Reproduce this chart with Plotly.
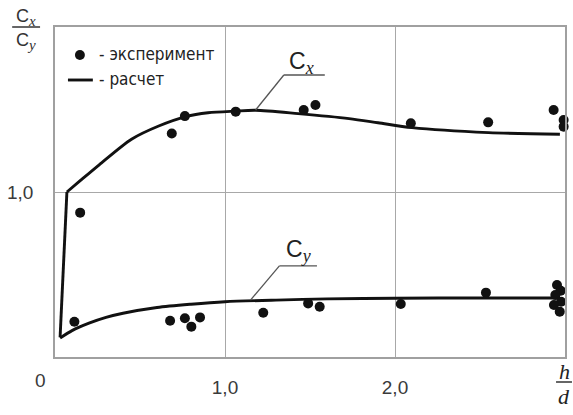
import plotly.graph_objects as go

# ---------------- data ----------------
# calculated curves (h/d, coefficient)
cx_calc_x = [0.03, 0.07, 0.15, 0.26, 0.45, 0.61, 0.77, 0.90, 1.06, 1.18, 1.43, 1.73, 1.90, 2.10, 2.55, 2.97]
cx_calc_y = [0.12, 1.00, 1.07, 1.165, 1.32, 1.40, 1.457, 1.48, 1.49, 1.495, 1.475, 1.445, 1.42, 1.39, 1.36, 1.35]

cy_calc_x = [0.03, 0.10, 0.20, 0.30, 0.40, 0.60, 0.80, 1.00, 1.30, 1.60, 2.00, 2.50, 2.97]
cy_calc_y = [0.115, 0.16, 0.205, 0.24, 0.265, 0.30, 0.32, 0.335, 0.345, 0.352, 0.356, 0.358, 0.358]

# experimental points
cx_exp_x = [0.148, 0.687, 0.764, 1.063, 1.463, 1.532, 2.093, 2.548, 2.933, 2.992, 2.992]
cx_exp_y = [0.875, 1.355, 1.46, 1.487, 1.497, 1.527, 1.416, 1.422, 1.497, 1.436, 1.396]

cy_exp_x = [0.114, 0.677, 0.764, 0.802, 0.853, 1.225, 1.489, 1.557, 2.034, 2.535,
            2.953, 2.975, 2.943, 2.977, 2.935, 2.969, 3.006]
cy_exp_y = [0.214, 0.22, 0.235, 0.184, 0.24, 0.268, 0.325, 0.305, 0.321, 0.39,
            0.436, 0.402, 0.376, 0.335, 0.315, 0.275, 0.285]

x_tickvals = [1, 2]
x_ticktext = ["1,0", "2,0"]
y_tickvals = [1]
y_ticktext = ["1,0"]

legend_labels = ["- эксперимент", "- расчет"]

# ---------------- layout geometry ----------------
W, H = 573, 415
ML, MR, MT, MB = 55, 6, 27, 58
PW, PH = W - ML - MR, H - MT - MB


def px(x):
    return (x - ML) / PW


def py(y):
    return (H - MB - y) / PH


SANS = "Liberation Sans, Arial, sans-serif"
NARROW = "DejaVu Sans Condensed, Liberation Sans Narrow, sans-serif"
SERIF = "Liberation Serif, Times New Roman, serif"


def sub_i(letter, size):
    return (f'<sub><span style="font-family:{SERIF};font-style:italic;'
            f'font-size:{size}px">{letter}</span></sub>')


fig = go.Figure()

LINE = dict(color="#111111", width=2.9)
MARK = dict(color="#111111", size=10)

# Cx calculated: steep straight part then smooth part
fig.add_trace(go.Scatter(x=cx_calc_x[:2], y=cx_calc_y[:2], mode="lines",
                         line=LINE, showlegend=False, hoverinfo="skip"))
fig.add_trace(go.Scatter(x=cx_calc_x[1:], y=cx_calc_y[1:], mode="lines",
                         line=dict(LINE, shape="spline", smoothing=0.8),
                         showlegend=False))
fig.add_trace(go.Scatter(x=cy_calc_x, y=cy_calc_y, mode="lines",
                         line=dict(LINE, shape="spline", smoothing=0.8),
                         showlegend=False))
fig.add_trace(go.Scatter(x=cx_exp_x, y=cx_exp_y, mode="markers",
                         marker=MARK, showlegend=False, cliponaxis=False))
fig.add_trace(go.Scatter(x=cy_exp_x, y=cy_exp_y, mode="markers",
                         marker=MARK, showlegend=False, cliponaxis=False))

shapes = []
annotations = []

C = dict(xanchor="center", yanchor="middle", showarrow=False)

# leader lines for curve labels (data coords)
lead = dict(type="line", xref="x", yref="y", line=dict(color="#555555", width=1.3))
shapes += [
    dict(lead, x0=1.18, y0=1.497, x1=1.346, y1=1.709),
    dict(lead, x0=1.346, y0=1.709, x1=1.587, y1=1.709),
    dict(lead, x0=1.15, y0=0.345, x1=1.32, y1=0.552),
    dict(lead, x0=1.32, y0=0.552, x1=1.541, y1=0.552),
]

annotations += [
    dict(C, x=1.45, y=1.78, xref="x", yref="y",
         text="C" + sub_i("x", 18),
         font=dict(family=SANS, size=23, color="#222222")),
    dict(C, x=1.43, y=0.64, xref="x", yref="y",
         text="C" + sub_i("y", 18),
         font=dict(family=SANS, size=23, color="#222222")),
]

# legend (drawn inside the plot)
shapes += [
    dict(type="circle", xref="paper", yref="paper",
         x0=px(75), x1=px(85), y0=py(50), y1=py(60),
         fillcolor="#111111", line=dict(color="#111111", width=0)),
    dict(type="line", xref="paper", yref="paper",
         x0=px(68), x1=px(93), y0=py(80), y1=py(80),
         line=dict(color="#111111", width=2.9)),
]
annotations += [
    dict(C, x=px(97), y=py(54), xref="paper", yref="paper", xanchor="left",
         text=legend_labels[0],
         font=dict(family=NARROW, size=17, color="#222222")),
    dict(C, x=px(97), y=py(79), xref="paper", yref="paper", xanchor="left",
         text=legend_labels[1],
         font=dict(family=NARROW, size=17, color="#222222")),
]

# axis titles as fractions
frac_font = dict(family=SANS, size=18, color="#333333")
annotations += [
    dict(C, x=px(26), y=py(17), xref="paper", yref="paper",
         text="C" + sub_i("x", 15), font=frac_font),
    dict(C, x=px(26), y=py(41), xref="paper", yref="paper",
         text="C" + sub_i("y", 15), font=frac_font),
    dict(C, x=px(566), y=py(371), xref="paper", yref="paper",
         text="<i>h</i>",
         font=dict(family=SERIF, size=22, color="#222222")),
    dict(C, x=px(566), y=py(397), xref="paper", yref="paper",
         text="<i>d</i>",
         font=dict(family=SERIF, size=22, color="#222222")),
    dict(C, x=px(40), y=py(380), xref="paper", yref="paper",
         text="0", font=dict(family=SANS, size=19, color="#3a3a3a")),
]
shapes += [
    dict(type="line", xref="paper", yref="paper",
         x0=px(12), x1=px(40), y0=py(27), y1=py(27),
         line=dict(color="#333333", width=1.5)),
    dict(type="line", xref="paper", yref="paper",
         x0=px(558), x1=px(574), y0=py(382), y1=py(382),
         line=dict(color="#333333", width=1.5)),
]

axis_common = dict(showgrid=True, gridcolor="#a8a8a8", gridwidth=1.3,
                   showline=True, linecolor="#a0a0a0", linewidth=1.5, mirror=True,
                   zeroline=False, ticks="",
                   tickfont=dict(family=SANS, size=19, color="#3a3a3a"))

fig.update_layout(
    width=W, height=H,
    margin=dict(l=ML, r=MR, t=MT, b=MB),
    paper_bgcolor="white", plot_bgcolor="white",
    xaxis=dict(axis_common, range=[0, 3], tickvals=x_tickvals, ticktext=x_ticktext,
               ticklabelstandoff=12),
    yaxis=dict(axis_common, range=[0, 2], tickvals=y_tickvals, ticktext=y_ticktext,
               ticklabelstandoff=16),
    shapes=shapes,
    annotations=annotations,
)

fig.write_html(
    "out.html",
    config={"displayModeBar": False},
    post_script="document.body.style.margin='0';document.body.style.padding='0';"
                "document.documentElement.style.overflow='hidden';",
)
